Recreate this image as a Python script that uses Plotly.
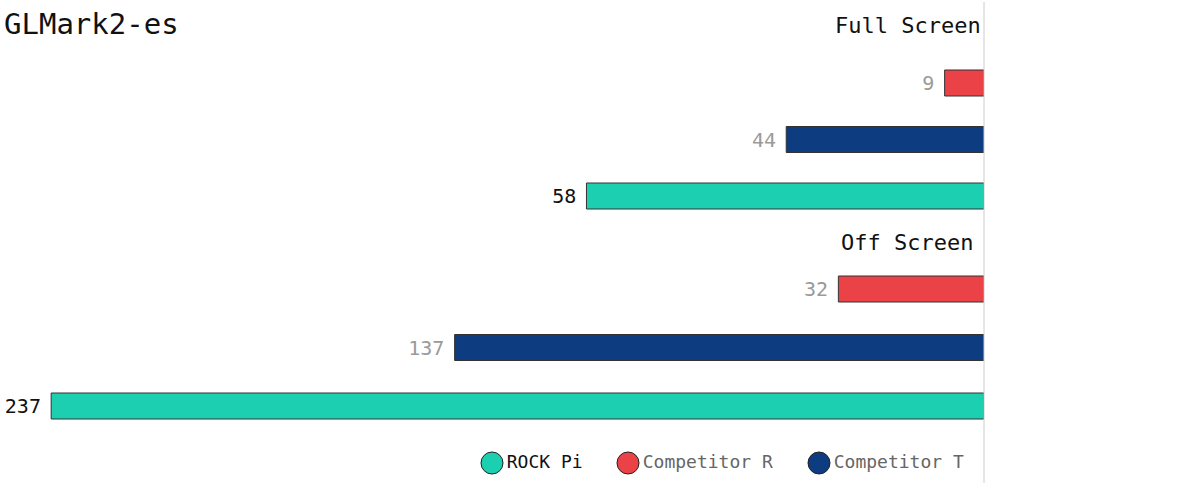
import plotly.graph_objects as go

# ---- data ----
title = "GLMark2-es"
groups = ["Full Screen", "Off Screen"]
devices = ["Competitor R", "Competitor T", "ROCK Pi"]   # top-to-bottom order in each group
scores = {
    "Full Screen": [9, 44, 58],
    "Off Screen": [32, 137, 237],
}
# bar length as share (%) of the track, as drawn in the picture
bar_share = {
    "Full Screen": [4.0, 20.1, 40.4],
    "Off Screen": [14.8, 53.8, 94.8],
}
legend_order = ["ROCK Pi", "Competitor R", "Competitor T"]
colors = {"ROCK Pi": "#1ccfb1", "Competitor R": "#eb4247", "Competitor T": "#0d3c80"}
label_colors = {"ROCK Pi": "#111111", "Competitor R": "#9a9a9a", "Competitor T": "#9a9a9a"}
legend_text_colors = {"ROCK Pi": "#111111", "Competitor R": "#666666", "Competitor T": "#666666"}

FONT = "DejaVu Sans Mono"
W, H = 1200, 490
AXIS_PX = 984

# layout constants (pixels from top)
group_first_bar = {"Full Screen": 83, "Off Screen": 289}
group_step = {"Full Screen": 56.5, "Off Screen": 58.5}
heading_y = {"Full Screen": 25, "Off Screen": 242}
heading_x = {"Full Screen": 983, "Off Screen": 975}

PAD = "<span style='font-size:12px'>&nbsp;</span>"

fig = go.Figure()

for dev_i, dev in enumerate(devices):
    xs, ys, txt = [], [], []
    for g in groups:
        xs.append(bar_share[g][dev_i])
        ys.append(group_first_bar[g] + dev_i * group_step[g])
        txt.append(str(scores[g][dev_i]) + PAD)
    fig.add_trace(go.Bar(
        orientation="h", x=xs, y=ys, width=26,
        marker=dict(color=colors[dev], line=dict(color="#333333", width=1)),
        text=txt, textposition="outside", cliponaxis=False,
        textfont=dict(family=FONT, size=20, color=label_colors[dev]),
        showlegend=False, hoverinfo="skip",
    ))

# custom legend (circles) on a full-figure axis in pixel units
leg_x = [492, 628, 819]
fig.add_trace(go.Scatter(
    x=leg_x, y=[463] * 3, xaxis="x2", yaxis="y2",
    mode="markers+text",
    marker=dict(size=22, color=[colors[d] for d in legend_order],
                line=dict(color="#222222", width=1)),
    text=legend_order, textposition="middle right",
    textfont=dict(family=FONT, size=18, color=[legend_text_colors[d] for d in legend_order]),
    showlegend=False, hoverinfo="skip", cliponaxis=False,
))

annotations = [dict(text=title, x=2, y=24, xref="x2", yref="y2", xanchor="left", yanchor="middle",
                    showarrow=False, font=dict(family=FONT, size=29, color="#111111"))]
for g in groups:
    annotations.append(dict(text=g, x=heading_x[g], y=heading_y[g], xref="x2", yref="y2",
                            xanchor="right", yanchor="middle", showarrow=False,
                            font=dict(family=FONT, size=22, color="#111111")))

fig.update_layout(
    width=W, height=H,
    margin=dict(l=0, r=0, t=0, b=0),
    paper_bgcolor="white", plot_bgcolor="rgba(0,0,0,0)",
    barmode="overlay",
    xaxis=dict(range=[100, 0], domain=[0, AXIS_PX / W], showgrid=False, zeroline=False,
               showticklabels=False, showline=False, fixedrange=True),
    yaxis=dict(range=[H, 0], domain=[0, 1], showgrid=False, zeroline=False,
               showticklabels=False, showline=False, fixedrange=True),
    xaxis2=dict(range=[0, W], domain=[0, 1], anchor="y2", visible=False, fixedrange=True),
    yaxis2=dict(range=[H, 0], domain=[0, 1], anchor="x2", visible=False, fixedrange=True),
    shapes=[dict(type="line", xref="x2", yref="y2", x0=AXIS_PX, x1=AXIS_PX, y0=2, y1=483,
                 line=dict(color="#cccccc", width=1))],
    annotations=annotations,
    showlegend=False,
    font=dict(family=FONT),
)

fig.write_html("out.html")
